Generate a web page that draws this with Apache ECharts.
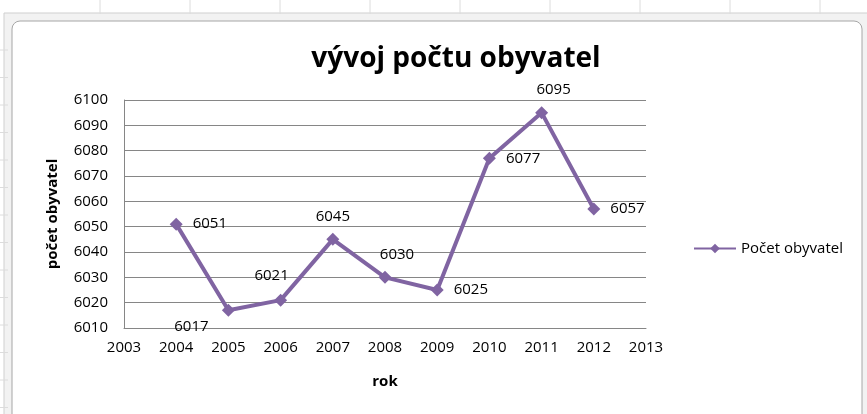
<!DOCTYPE html>
<html>
<head>
<meta charset="utf-8">
<script src="https://cdn.jsdelivr.net/npm/echarts@6/dist/echarts.min.js"></script>
<style>
  html, body { margin: 0; padding: 0; background: #fff; }
  #chart { width: 867px; height: 414px; }
</style>
</head>
<body>
<div id="chart"></div>
<script>
// data
const years = [2004, 2005, 2006, 2007, 2008, 2009, 2010, 2011, 2012];
const population = [6051, 6017, 6021, 6045, 6030, 6025, 6077, 6095, 6057];
// where Excel put each data label
const labelPos = ['right', 'bottomLeft', 'topLeft', 'top', 'topRight', 'right', 'right', 'topRight', 'right'];

const FONT = '"Open Sans", "DejaVu Sans", sans-serif';
const purple = '#8064a2';

const labelOffsets = {
  right: {position: 'right', distance: 10, offset: [0, 0]},
  bottomLeft: {position: 'bottom', distance: 2, offset: [-37, 0]},
  topLeft: {position: 'top', distance: 10, offset: [-9, 0]},
  top: {position: 'top', distance: 9, offset: [0, 0]},
  topRight: {position: 'top', distance: 9, offset: [12, 0]}
};

const seriesData = years.map((y, i) => {
  const lp = labelOffsets[labelPos[i]];
  return {
    value: [y, population[i]],
    label: {position: lp.position, distance: lp.distance, offset: lp.offset}
  };
});

// spreadsheet background behind the chart object
const sheet = [];
for (let x = 100; x < 867; x += 90) {
  sheet.push({type: 'line', shape: {x1: x, y1: 0, x2: x, y2: 14}, style: {stroke: '#dcdcdc', lineWidth: 1}, silent: true});
}
for (let y = 50; y < 414; y += 27.5) {
  sheet.push({type: 'line', shape: {x1: 0, y1: y, x2: 8, y2: y}, style: {stroke: '#dcdcdc', lineWidth: 1}, silent: true});
}

const chart = echarts.init(document.getElementById('chart'));
chart.setOption({
  animation: false,
  backgroundColor: '#fff',
  graphic: [
    ...sheet,
    {type: 'rect', shape: {x: 4, y: 13, width: 868, height: 410}, style: {fill: '#f2f2f2', stroke: '#cfcfcf', lineWidth: 1}, silent: true, z: -10},
    {type: 'rect', shape: {x: 12, y: 21, width: 850, height: 410, r: 8}, style: {fill: '#fff', stroke: '#a6a6a6', lineWidth: 1}, silent: true, z: -9}
  ],
  title: {
    text: 'vývoj počtu obyvatel',
    left: 451,
    top: 40,
    textAlign: 'center',
    textStyle: {fontFamily: FONT, fontSize: 28, fontWeight: 'bold', color: '#000'}
  },
  legend: {
    left: 688,
    top: 236,
    itemWidth: 42,
    itemHeight: 12,
    itemGap: 6,
    textStyle: {fontFamily: FONT, fontSize: 15, color: '#000'},
    data: ['Počet obyvatel']
  },
  grid: {left: 124, right: 221, top: 100, bottom: 86},
  xAxis: {
    type: 'value',
    min: 2003,
    max: 2013,
    interval: 1,
    name: 'rok',
    nameLocation: 'middle',
    nameGap: 46,
    nameTextStyle: {fontFamily: FONT, fontSize: 15, fontWeight: 'bold', color: '#000'},
    axisLine: {show: true, lineStyle: {color: '#868686', width: 1}},
    axisTick: {show: false},
    axisLabel: {fontFamily: FONT, fontSize: 15, color: '#000', margin: 12, formatter: v => String(v)},
    splitLine: {show: false}
  },
  yAxis: {
    type: 'value',
    min: 6010,
    max: 6100,
    interval: 10,
    name: 'počet obyvatel',
    nameLocation: 'middle',
    nameGap: 64,
    nameTextStyle: {fontFamily: FONT, fontSize: 15, fontWeight: 'bold', color: '#000'},
    axisLine: {show: true, lineStyle: {color: '#868686', width: 1}},
    axisTick: {show: false},
    axisLabel: {fontFamily: FONT, fontSize: 15, color: '#000', margin: 16, formatter: v => String(v)},
    splitLine: {show: true, lineStyle: {color: '#868686', width: 1}}
  },
  series: [{
    name: 'Počet obyvatel',
    type: 'line',
    data: seriesData,
    symbol: 'diamond',
    symbolSize: 13,
    lineStyle: {color: purple, width: 4},
    itemStyle: {color: purple},
    label: {show: true, fontFamily: FONT, fontSize: 15, color: '#000', formatter: p => p.value[1]}
  }]
});
</script>
</body>
</html>
